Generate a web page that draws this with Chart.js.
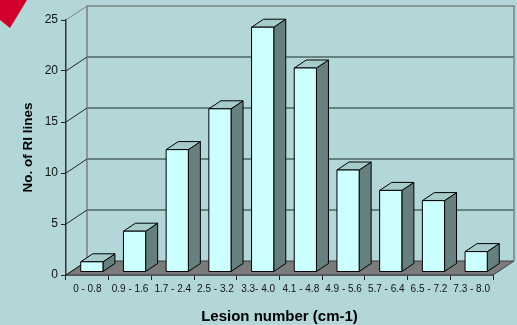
<!DOCTYPE html>
<html>
<head>
<meta charset="utf-8">
<script src="https://cdn.jsdelivr.net/npm/chart.js@4.4.1/dist/chart.umd.min.js"></script>
<style>
  html, body { margin: 0; padding: 0; background: #b3d7d9; }
  #wrap { width: 517px; height: 325px; position: relative; }
  canvas { display: block; }
</style>
</head>
<body>
<div id="wrap"><canvas id="chart" width="517" height="325"></canvas></div>
<script>
// Lesion number ranges (cm-1) and how many RI lines fall into each
const categories = ["0 - 0.8", "0.9 - 1.6", "1.7 - 2.4", "2.5 - 3.2", "3.3- 4.0",
                    "4.1 - 4.8", "4.9 - 5.6", "5.7 - 6.4", "6.5 - 7.2", "7.3 - 8.0"];
const riLines = [1, 4, 12, 16, 24, 20, 10, 8, 7, 2];
const yTickValues = [0, 5, 10, 15, 20, 25];

// 3D look: depth of the back wall and of each box, plus colours
const WALL = { dx: 21, dy: -14 };
const BOX_FRONT = { dx: 4.5, dy: -3 };
const BOX_DEPTH = { dx: 12, dy: -8 };
const COLORS = {
  front: '#ccffff',
  side: '#668080',
  top: '#a6cbcb',
  floor: '#7b7b7b',
  wallEdge: '#808080',
  grid: '#4d6565',
  axis: '#222222'
};
const FONT = '"Liberation Sans", Arial, sans-serif';

const threeD = {
  id: 'threeD',
  beforeDatasetsDraw(chart) {
    const ctx = chart.ctx;
    const { left, right, top, bottom } = chart.chartArea;
    const ys = chart.scales.y;
    ctx.save();
    // floor
    ctx.beginPath();
    ctx.moveTo(left, bottom);
    ctx.lineTo(right, bottom);
    ctx.lineTo(right + WALL.dx, bottom + WALL.dy);
    ctx.lineTo(left + WALL.dx, bottom + WALL.dy);
    ctx.closePath();
    ctx.fillStyle = COLORS.floor;
    ctx.fill();
    ctx.lineWidth = 1;
    ctx.strokeStyle = '#3a3a3a';
    ctx.stroke();

    // back wall gridlines
    ctx.lineWidth = 1.5;
    ctx.strokeStyle = COLORS.grid;
    yTickValues.forEach(v => {
      if (v === 0 || v === yTickValues[yTickValues.length - 1]) return;
      const y = ys.getPixelForValue(v) + WALL.dy;
      ctx.beginPath();
      ctx.moveTo(left + WALL.dx, y);
      ctx.lineTo(right + WALL.dx, y);
      ctx.stroke();
    });

    // back wall outline
    ctx.strokeStyle = COLORS.wallEdge;
    ctx.lineWidth = 1.5;
    ctx.beginPath();
    ctx.moveTo(left + WALL.dx, bottom + WALL.dy);
    ctx.lineTo(left + WALL.dx, top + WALL.dy);
    ctx.lineTo(right + WALL.dx, top + WALL.dy);
    ctx.lineTo(right + WALL.dx, bottom + WALL.dy);
    ctx.stroke();

    // side-wall tick connectors
    ctx.lineWidth = 1;
    yTickValues.forEach((v, i) => {
      const y = ys.getPixelForValue(v);
      ctx.strokeStyle = i === yTickValues.length - 1 ? COLORS.wallEdge : COLORS.axis;
      ctx.beginPath();
      ctx.moveTo(left, y);
      ctx.lineTo(left + WALL.dx, y + WALL.dy);
      ctx.stroke();
    });
    ctx.restore();
  },
  afterDatasetsDraw(chart) {
    const ctx = chart.ctx;
    const meta = chart.getDatasetMeta(0);
    ctx.save();
    ctx.lineWidth = 1;
    ctx.strokeStyle = '#000';
    ctx.lineJoin = 'round';
    meta.data.forEach(bar => {
      const p = bar.getProps(['x', 'y', 'base', 'width'], true);
      const x0 = p.x - p.width / 2 + BOX_FRONT.dx;
      const x1 = p.x + p.width / 2 + BOX_FRONT.dx;
      const y0 = p.y + BOX_FRONT.dy;
      const y1 = p.base + BOX_FRONT.dy;
      const bx = BOX_DEPTH.dx, by = BOX_DEPTH.dy;
      // right side
      ctx.beginPath();
      ctx.moveTo(x1, y1);
      ctx.lineTo(x1, y0);
      ctx.lineTo(x1 + bx, y0 + by);
      ctx.lineTo(x1 + bx, y1 + by);
      ctx.closePath();
      ctx.fillStyle = COLORS.side;
      ctx.fill();
      ctx.stroke();
      // top
      ctx.beginPath();
      ctx.moveTo(x0, y0);
      ctx.lineTo(x1, y0);
      ctx.lineTo(x1 + bx, y0 + by);
      ctx.lineTo(x0 + bx, y0 + by);
      ctx.closePath();
      ctx.fillStyle = COLORS.top;
      ctx.fill();
      ctx.stroke();
      // front
      ctx.beginPath();
      ctx.rect(x0, y0, x1 - x0, y1 - y0);
      ctx.fillStyle = COLORS.front;
      ctx.fill();
      ctx.stroke();
    });
    ctx.restore();
  },
  afterDraw(chart) {
    // red corner accent
    const ctx = chart.ctx;
    ctx.save();
    ctx.beginPath();
    ctx.moveTo(0, 0);
    ctx.lineTo(27, 0);
    ctx.lineTo(10, 28);
    ctx.lineTo(0, 20);
    ctx.closePath();
    ctx.fillStyle = '#d2002c';
    ctx.fill();
    ctx.restore();
  }
};

new Chart(document.getElementById('chart'), {
  type: 'bar',
  data: {
    labels: categories,
    datasets: [{
      label: 'No. of RI lines',
      data: riLines,
      backgroundColor: 'rgba(0,0,0,0)',
      borderWidth: 0,
      barPercentage: 0.52,
      categoryPercentage: 1
    }]
  },
  options: {
    responsive: false,
    animation: false,
    devicePixelRatio: 1,
    layout: { padding: { left: 0, top: 20, right: 24, bottom: 0 } },
    plugins: { legend: { display: false }, tooltip: { enabled: false } },
    scales: {
      x: {
        type: 'category',
        offset: true,
        grid: { offset: true, drawOnChartArea: false, drawTicks: true, tickLength: 5, color: COLORS.axis, lineWidth: 1 },
        border: { display: true, color: COLORS.axis, width: 1.5 },
        ticks: { font: { family: FONT, size: 10 }, color: '#111', maxRotation: 0, autoSkip: false, padding: 3 },
        title: { display: true, text: 'Lesion number (cm-1)', color: '#000',
                 font: { family: FONT, size: 15, weight: 'bold', lineHeight: 1.1 }, padding: { top: 0, bottom: 0 } },
        afterFit(scale) { scale.height = 50; }
      },
      y: {
        min: 0,
        max: 25,
        afterBuildTicks(scale) { scale.ticks = yTickValues.map(v => ({ value: v })); },
        grid: { drawOnChartArea: false, drawTicks: true, tickLength: 5, color: COLORS.axis, lineWidth: 1 },
        border: { display: true, color: '#333', width: 1.5 },
        ticks: { font: { family: FONT, size: 12 }, color: '#111', padding: 3 },
        title: { display: true, text: 'No. of RI lines', color: '#000',
                 font: { family: FONT, size: 13.5, weight: 'bold' }, padding: { top: 20, bottom: 0 } },
        afterFit(scale) { scale.width = 66; }
      }
    }
  },
  plugins: [threeD]
});
</script>
</body>
</html>
